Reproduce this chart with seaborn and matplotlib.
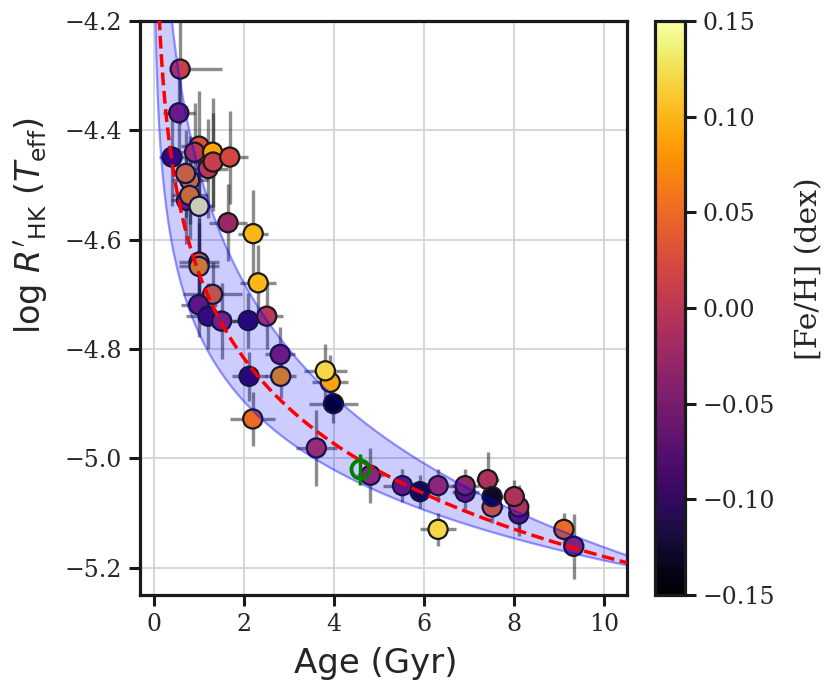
import numpy as np
import pandas as pd
import matplotlib
matplotlib.use("Agg")
import matplotlib.pyplot as plt
import seaborn as sns
from matplotlib.colors import Normalize
from matplotlib.cm import ScalarMappable

# ---------------- data ----------------
age = [0.59, 0.56, 0.41, 1.01, 0.91, 1.31, 1.21, 1.32, 1.69, 0.80, 0.71, 0.73,
       0.80, 1.01, 1.65, 2.21, 1.01, 1.01, 2.32, 1.31, 1.00, 1.21, 1.51, 2.10,
       2.51, 2.81, 2.12, 2.82, 2.20, 3.92, 3.81, 3.99, 3.61, 4.81, 5.52, 5.91,
       6.31, 6.31, 6.91, 6.91, 7.41, 7.51, 7.51, 8.10, 8.10, 8.00, 9.10, 9.32]
logrhk = [-4.288, -4.368, -4.449, -4.429, -4.440, -4.440, -4.470, -4.458, -4.449,
          -4.491, -4.479, -4.528, -4.519, -4.539, -4.569, -4.589, -4.641, -4.649,
          -4.679, -4.700, -4.719, -4.740, -4.749, -4.748, -4.740, -4.810, -4.850,
          -4.850, -4.928, -4.861, -4.840, -4.900, -4.981, -5.031, -5.050, -5.061,
          -5.050, -5.130, -5.062, -5.050, -5.039, -5.089, -5.070, -5.102, -5.089,
          -5.070, -5.130, -5.161]
feh = [0.01, -0.04, -0.09, 0.03, 0.00, 0.09, 0.00, 0.01, 0.02, 0.07, 0.06, -0.04,
       0.07, 0.15, -0.025, 0.10, 0.06, 0.08, 0.10, 0.05, -0.05, -0.09, -0.03, -0.10,
       0.00, -0.04, -0.10, 0.08, 0.05, 0.09, 0.12, -0.14, 0.00, -0.01, -0.05, -0.12,
       -0.01, 0.12, -0.06, -0.03, -0.01, 0.05, -0.13, -0.06, -0.01, -0.01, 0.05, -0.02]
age_err_lo = [0.23, 0.35, 0.30, 0.40, 0.30, 0.40, 0.45, 0.50, 0.40, 0.40, 0.30, 0.35,
              0.40, 0.30, 0.43, 0.33, 0.45, 0.45, 0.40, 0.65, 0.40, 0.50, 0.40, 0.35,
              0.30, 0.33, 0.39, 0.35, 0.50, 0.40, 0.47, 0.54, 0.45, 0.30, 0.43, 0.20,
              0.40, 0.39, 0.30, 0.30, 0.25, 0.25, 0.25, 0.20, 0.20, 0.20, 0.15, 0.15]
age_err_hi = [0.92, 0.35, 0.30, 0.40, 0.30, 0.40, 0.45, 0.50, 0.40, 0.40, 0.30, 0.35,
              0.40, 0.30, 0.43, 0.33, 0.45, 0.45, 0.40, 0.65, 0.40, 0.50, 0.40, 0.35,
              0.35, 0.33, 0.39, 0.35, 0.50, 0.40, 0.47, 0.54, 0.45, 0.30, 0.43, 0.20,
              0.40, 0.39, 0.30, 0.30, 0.25, 0.25, 0.25, 0.20, 0.20, 0.20, 0.15, 0.15]
logrhk_err = [0.10, 0.07, 0.09, 0.10, 0.09, 0.10, 0.09, 0.09, 0.085, 0.08, 0.08, 0.08,
              0.08, 0.10, 0.07, 0.08, 0.08, 0.08, 0.07, 0.06, 0.06, 0.06, 0.07, 0.05,
              0.06, 0.05, 0.045, 0.04, 0.05, 0.05, 0.05, 0.035, 0.07, 0.05, 0.03, 0.03,
              0.03, 0.03, 0.03, 0.03, 0.05, 0.03, 0.03, 0.04, 0.04, 0.03, 0.03, 0.06]

sun_age = [4.57]
sun_logrhk = [-5.02]
sun_err = [0.028]

# fit  log R'HK = a + b * log10(age)
fit_a, fit_b = -4.66, -0.52
band_hi_a, band_hi_b = -4.47, -0.693
band_lo_a, band_lo_b = -4.77, -0.417

feh_min, feh_max = -0.15, 0.15
x_ticks = [0, 2, 4, 6, 8, 10]
y_ticks = [-5.2, -5.0, -4.8, -4.6, -4.4, -4.2]
cb_ticks = [-0.15, -0.10, -0.05, 0.00, 0.05, 0.10, 0.15]

# ---------------- style ----------------
sns.set_theme(style="white")
plt.rcParams["font.family"] = ["DejaVu Serif"]
plt.rcParams["mathtext.fontset"] = "dejavusans"

fig = plt.figure(figsize=(8.3, 6.92), dpi=100)
ax = fig.add_axes([0.1687, 0.1402, 0.5867, 0.8295])
cax = fig.add_axes([0.789, 0.1402, 0.036, 0.8295])

norm = Normalize(vmin=feh_min, vmax=feh_max)
df = pd.DataFrame({"age": age, "logrhk": logrhk, "feh": feh})

ax.grid(True, color="#d0d5da", lw=1.3, zorder=0)
ax.set_axisbelow(True)

ax.errorbar(age, logrhk, xerr=[age_err_lo, age_err_hi], yerr=logrhk_err,
            fmt="none", ecolor="k", alpha=0.5, elinewidth=2.4, capsize=0, zorder=1)

sns.scatterplot(data=df, x="age", y="logrhk", hue="feh", palette="inferno",
                hue_norm=norm, s=190, edgecolor="k", linewidth=1.6,
                legend=False, ax=ax, zorder=2)

t = np.linspace(0.01, 11, 800)
lt = np.log10(t)
hi = band_hi_a + band_hi_b * lt
lo = band_lo_a + band_lo_b * lt
ax.fill_between(t, lo, hi, color="blue", alpha=0.2, lw=0, zorder=3)
ax.plot(t, hi, color="blue", alpha=0.4, lw=1.6, zorder=3)
ax.plot(t, lo, color="blue", alpha=0.4, lw=1.6, zorder=3)
ax.plot(t, fit_a + fit_b * lt, color="red", ls="--", lw=2.5, zorder=4)

ax.errorbar(sun_age, sun_logrhk, yerr=sun_err, fmt="o", mfc="none", mec="green",
            mew=2.8, ms=13, ecolor="green", elinewidth=2.5, capsize=0, zorder=5)

ax.set_xlim(-0.3, 10.5)
ax.set_ylim(-5.25, -4.2)
ax.set_xticks(x_ticks)
ax.set_yticks(y_ticks)
ax.tick_params(axis="both", which="major", direction="out", length=8, width=2.2,
               labelsize=17, color="k", bottom=True, left=True, pad=5)
for s in ax.spines.values():
    s.set_color("k")
    s.set_linewidth(2.3)

ax.set_xlabel("Age (Gyr)", fontsize=24.5, family="DejaVu Sans", labelpad=4)
ax.xaxis.set_label_coords(0.485, -0.09)
ax.set_ylabel(r"log $R'_{\mathrm{HK}}$ ($T_{\mathrm{eff}}$)", fontsize=24,
              family="DejaVu Sans")
ax.yaxis.set_label_coords(-0.185, 0.643)

sm = ScalarMappable(norm=norm, cmap="inferno")
cb = fig.colorbar(sm, cax=cax, ticks=cb_ticks)
cb.outline.set_linewidth(2.3)
cb.outline.set_edgecolor("k")
cax.tick_params(length=8, width=2.2, labelsize=17, color="k", pad=5)
cb.set_label("[Fe/H] (dex)", fontsize=21.5)
cax.yaxis.set_label_coords(4.7, 0.568)

fig.savefig("out.png", dpi=100)
